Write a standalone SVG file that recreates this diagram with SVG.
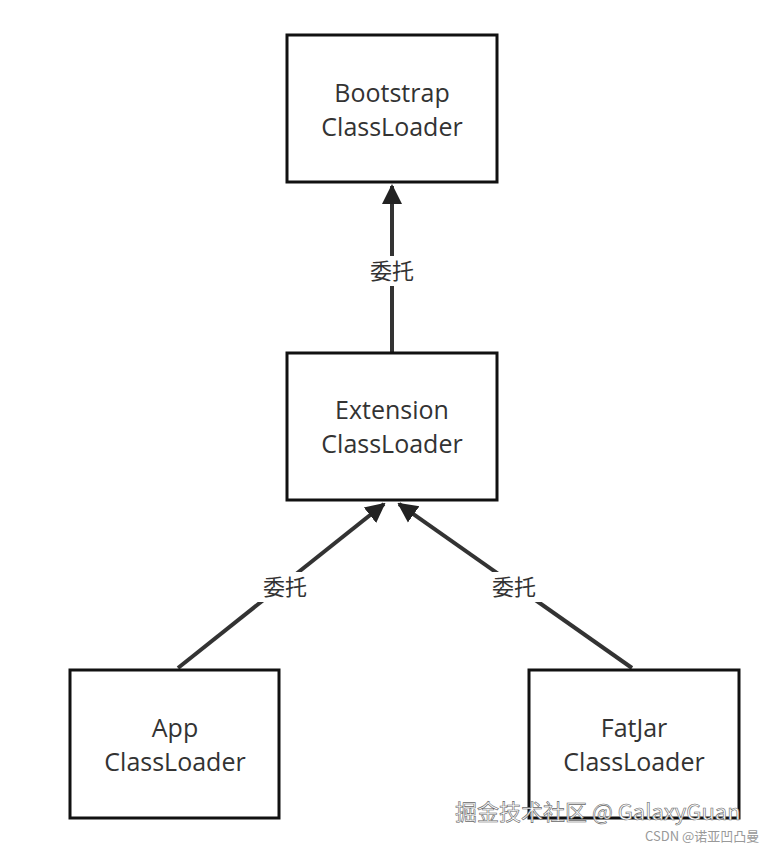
<svg xmlns="http://www.w3.org/2000/svg" width="780" height="850" viewBox="0 0 780 850">
<style>
.box{fill:#fff;stroke:#111;stroke-width:3}
.t{font-family:"Open Sans","Noto Sans",sans-serif;font-size:25px;fill:#333;text-anchor:middle}
.l{font-family:"Noto Sans CJK SC",sans-serif;font-size:22px;fill:#333;text-anchor:middle}
.c{stroke:#333;stroke-width:4;fill:none}
</style>
<defs><marker id="a" viewBox="0 0 10 10" refX="9" refY="5" markerWidth="5" markerHeight="6" orient="auto" markerUnits="strokeWidth"><path d="M0,0L10,5L0,10z" fill="#222"/></marker></defs>
<rect width="780" height="850" fill="#fff"/>
<g id="connectors">
<line class="c" x1="392" y1="352" x2="392" y2="186" marker-end="url(#a)"/>
<line class="c" x1="178" y1="668" x2="384" y2="504" marker-end="url(#a)"/>
<line class="c" x1="632" y1="668" x2="399" y2="504" marker-end="url(#a)"/>
<rect x="364" y="256" width="56" height="30" fill="#fff"/>
<text class="l" x="392" y="279">委托</text>
<rect x="257" y="572" width="56" height="30" fill="#fff"/>
<text class="l" x="285" y="595">委托</text>
<rect x="486" y="572" width="56" height="30" fill="#fff"/>
<text class="l" x="514" y="595">委托</text>
</g>
<g id="bootstrap"><rect class="box" x="287" y="35" width="210" height="147"/><text class="t" x="392" y="102">Bootstrap</text><text class="t" x="392" y="136">ClassLoader</text></g>
<g id="extension"><rect class="box" x="287" y="353" width="210" height="147"/><text class="t" x="392" y="419">Extension</text><text class="t" x="392" y="453">ClassLoader</text></g>
<g id="app"><rect class="box" x="70" y="670" width="209" height="148"/><text class="t" x="175" y="737">App</text><text class="t" x="175" y="771">ClassLoader</text></g>
<g id="fatjar"><rect class="box" x="529" y="670" width="210" height="148"/><text class="t" x="634" y="737">FatJar</text><text class="t" x="634" y="771">ClassLoader</text></g>
<text x="455" y="820" font-family="Noto Sans CJK SC,sans-serif" font-size="22" fill="#fff" stroke="#666" stroke-width="0.6">掘金技术社区 @ GalaxyGuan</text>
<text x="645" y="841" font-family="Noto Sans CJK SC,sans-serif" font-size="13" fill="#999">CSDN @诺亚凹凸曼</text>
</svg>
